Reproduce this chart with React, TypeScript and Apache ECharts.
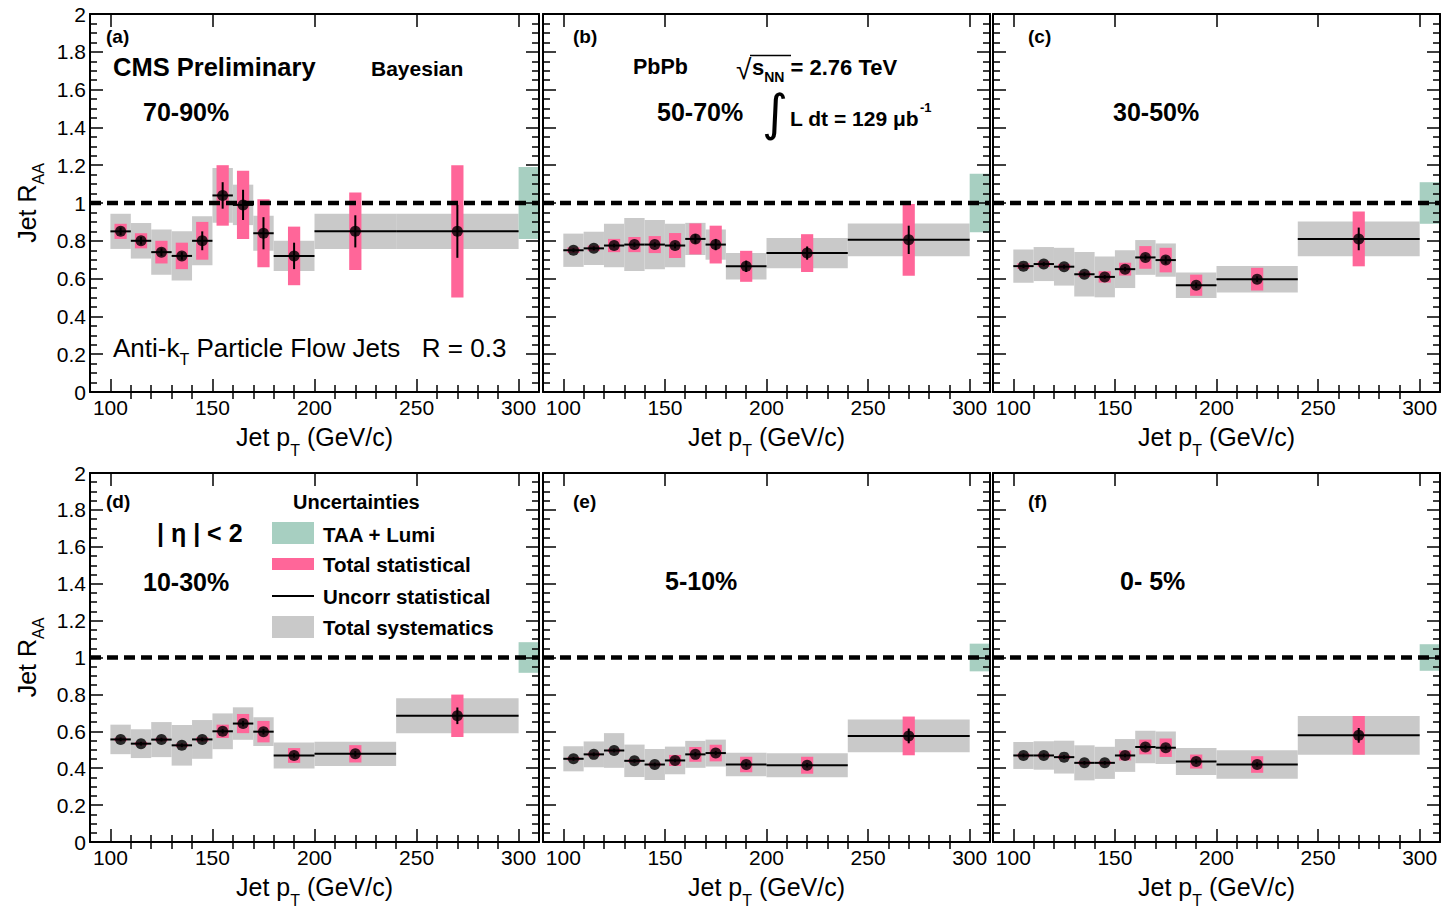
import React, { useEffect, useRef } from "react";
import * as echarts from "echarts";

// ---------- data ----------
const binLow = [100, 110, 120, 130, 140, 150, 160, 170, 180, 200, 240];
const binHigh = [110, 120, 130, 140, 150, 160, 170, 180, 200, 240, 300];
const binCenter = [105, 115, 125, 135, 145, 155, 165, 175, 190, 220, 270];

// (a) 70-90%
const raaA = [0.85, 0.8, 0.74, 0.72, 0.8, 1.04, 0.99, 0.84, 0.72, 0.85, 0.85];
const statA = [0.04, 0.04, 0.06, 0.07, 0.1, 0.16, 0.18, 0.18, 0.155, 0.205, 0.35];
const uncA = [0.02, 0.02, 0.02, 0.02, 0.05, 0.07, 0.08, 0.085, 0.07, 0.085, 0.14];
const sysA = [0.093, 0.094, 0.12, 0.13, 0.13, 0.145, 0.107, 0.093, 0.08, 0.093, 0.093];
// (b) 50-70%
const raaB = [0.75, 0.76, 0.775, 0.78, 0.78, 0.775, 0.81, 0.78, 0.665, 0.735, 0.805];
const statB = [0.015, 0.015, 0.035, 0.04, 0.045, 0.066, 0.082, 0.1, 0.082, 0.1, 0.19];
const uncB = [0.01, 0.01, 0.01, 0.012, 0.012, 0.015, 0.025, 0.03, 0.03, 0.035, 0.075];
const sysB = [0.088, 0.088, 0.115, 0.14, 0.13, 0.115, 0.085, 0.08, 0.07, 0.08, 0.087];
// (c) 30-50%
const raaC = [0.666, 0.677, 0.663, 0.623, 0.609, 0.65, 0.712, 0.698, 0.565, 0.597, 0.81];
const statC = [0.015, 0.015, 0.015, 0.015, 0.03, 0.034, 0.06, 0.065, 0.056, 0.06, 0.145];
const uncC = [0.01, 0.01, 0.01, 0.01, 0.01, 0.012, 0.015, 0.02, 0.015, 0.015, 0.06];
const sysC = [0.088, 0.09, 0.1, 0.118, 0.108, 0.1, 0.092, 0.088, 0.067, 0.07, 0.092];
// (d) 10-30%
const raaD = [0.556, 0.533, 0.555, 0.524, 0.556, 0.6, 0.642, 0.598, 0.469, 0.478, 0.684];
const statD = [0.01, 0.01, 0.01, 0.01, 0.012, 0.036, 0.052, 0.058, 0.04, 0.047, 0.115];
const uncD = [0.01, 0.01, 0.01, 0.01, 0.01, 0.012, 0.015, 0.015, 0.012, 0.015, 0.045];
const sysD = [0.08, 0.078, 0.095, 0.11, 0.105, 0.097, 0.088, 0.078, 0.07, 0.066, 0.095];
// (e) 5-10%
const raaE = [0.451, 0.475, 0.496, 0.44, 0.42, 0.442, 0.475, 0.482, 0.42, 0.416, 0.575];
const statE = [0.01, 0.01, 0.01, 0.01, 0.01, 0.03, 0.04, 0.045, 0.042, 0.046, 0.105];
const uncE = [0.01, 0.01, 0.01, 0.01, 0.01, 0.01, 0.012, 0.012, 0.012, 0.012, 0.04];
const sysE = [0.068, 0.07, 0.094, 0.088, 0.084, 0.075, 0.073, 0.073, 0.064, 0.065, 0.089];
// (f) 0-5%
const raaF = [0.469, 0.469, 0.46, 0.429, 0.429, 0.469, 0.515, 0.511, 0.436, 0.42, 0.578];
const statF = [0.01, 0.01, 0.01, 0.01, 0.01, 0.027, 0.04, 0.05, 0.038, 0.045, 0.105];
const uncF = [0.01, 0.01, 0.01, 0.01, 0.01, 0.01, 0.012, 0.012, 0.012, 0.012, 0.04];
const sysF = [0.073, 0.077, 0.089, 0.095, 0.087, 0.089, 0.088, 0.088, 0.073, 0.077, 0.105];

// TAA + Lumi normalisation uncertainty per panel
const taaLumi = [0.19, 0.155, 0.11, 0.083, 0.075, 0.072];
const normBoxRange = [300, 310];
const refLevel = 1;

const panelTags = ["(a)", "(b)", "(c)", "(d)", "(e)", "(f)"];
const centralityLabels = ["70-90%", "50-70%", "30-50%", "10-30%", "5-10%", "0- 5%"];
const xMajorTicks = [100, 150, 200, 250, 300];
const xMinorTicks = [110, 120, 130, 140, 160, 170, 180, 190, 210, 220, 230, 240, 260, 270, 280, 290];
const legendLabels = ["TAA + Lumi", "Total statistical", "Uncorr statistical", "Total systematics"];

const panels = [
  { raa: raaA, stat: statA, unc: uncA, sys: sysA },
  { raa: raaB, stat: statB, unc: uncB, sys: sysB },
  { raa: raaC, stat: statC, unc: uncC, sys: sysC },
  { raa: raaD, stat: statD, unc: uncD, sys: sysD },
  { raa: raaE, stat: statE, unc: uncE, sys: sysE },
  { raa: raaF, stat: statF, unc: uncF, sys: sysF },
];

// ---------- style ----------
const FONT = '"Liberation Sans", Arial, Helvetica, sans-serif';
const GRAY = "#c9c9c9";
const PINK = "#ff6699";
const GREEN = "#a7cfc1";
const STAT_HALF_WIDTH = 3;

const gridRects = [
  { left: 90, top: 14, width: 449, height: 378 },
  { left: 543, top: 14, width: 447, height: 378 },
  { left: 993, top: 14, width: 447, height: 378 },
  { left: 90, top: 473, width: 449, height: 370 },
  { left: 543, top: 473, width: 447, height: 370 },
  { left: 993, top: 473, width: 447, height: 370 },
];
const tagPos = [
  [106, 36], [573, 36], [1028, 36], [106, 501], [573, 501], [1028, 501],
];
const centPos = [
  [143, 112], [657, 112], [1113, 112], [143, 582], [665, 581], [1120, 581],
];

function boxRender(fill: string) {
  return (params: any, api: any) => {
    const p0 = api.coord([api.value(0), api.value(3)]);
    const p1 = api.coord([api.value(1), api.value(2)]);
    return {
      type: "rect",
      shape: { x: p0[0], y: p0[1], width: p1[0] - p0[0], height: p1[1] - p0[1] },
      style: { fill },
    };
  };
}

function errRender(params: any, api: any) {
  const y = api.value(3);
  const u = api.value(4);
  const a = api.coord([api.value(0), y]);
  const b = api.coord([api.value(1), y]);
  const c1 = api.coord([api.value(2), y + u]);
  const c2 = api.coord([api.value(2), y - u]);
  return {
    type: "group",
    children: [
      { type: "line", shape: { x1: a[0], y1: a[1], x2: b[0], y2: b[1] }, style: { stroke: "#000", lineWidth: 2 } },
      { type: "line", shape: { x1: c1[0], y1: c1[1], x2: c2[0], y2: c2[1] }, style: { stroke: "#000", lineWidth: 2 } },
    ],
  };
}

function subRich(mainSize: number, subSize: number, pad: number, bold = false, colorKey = "color") {
  const w = bold ? "bold" : "normal";
  return {
    t: { fontSize: mainSize, fontFamily: FONT, fontWeight: w, [colorKey]: "#000", lineHeight: mainSize + 1 },
    sub: {
      fontSize: subSize,
      fontFamily: FONT,
      fontWeight: w,
      [colorKey]: "#000",
      lineHeight: 2,
      verticalAlign: "top",
      padding: [pad, 0, 0, 0],
    },
  };
}

function buildOption() {
  const grid: any[] = [];
  const xAxis: any[] = [];
  const yAxis: any[] = [];
  const series: any[] = [];
  const tickLine = { color: "#000", width: 1.5 };
  const frameLine = { show: true, onZero: false, lineStyle: { color: "#000", width: 2 } };

  panels.forEach((p, i) => {
    const r = gridRects[i];
    grid.push({ left: r.left, top: r.top, width: r.width, height: r.height, containLabel: false });
    const xBase = { type: "value", gridIndex: i, min: 90, max: 310, z: 10, splitLine: { show: false } };
    xAxis.push({
      ...xBase,
      position: "bottom",
      axisLine: frameLine,
      axisTick: { show: true, inside: true, length: 13, customValues: xMajorTicks, lineStyle: tickLine },
      axisLabel: { show: true, customValues: xMajorTicks, fontSize: 21, color: "#000", fontFamily: FONT, margin: 5 },
      name: "{t|Jet p}{sub|T}{t| (GeV/c)}",
      nameLocation: "middle",
      nameGap: 32,
      nameTextStyle: {
        color: "#000",
        fontFamily: FONT,
        fontSize: 25,
        rich: subRich(25, 16, 18),
      },
    });
    xAxis.push({
      ...xBase,
      position: "bottom",
      axisLine: { show: false },
      axisTick: { show: true, inside: true, length: 7, customValues: xMinorTicks, lineStyle: tickLine },
      axisLabel: { show: false },
    });
    xAxis.push({
      ...xBase,
      position: "top",
      axisLine: frameLine,
      axisTick: { show: true, inside: true, length: 13, customValues: xMajorTicks, lineStyle: tickLine },
      axisLabel: { show: false },
    });
    xAxis.push({
      ...xBase,
      position: "top",
      axisLine: { show: false },
      axisTick: { show: true, inside: true, length: 7, customValues: xMinorTicks, lineStyle: tickLine },
      axisLabel: { show: false },
    });
    const showY = i % 3 === 0;
    const yBase = {
      type: "value",
      gridIndex: i,
      min: 0,
      max: 2,
      interval: 0.2,
      z: 10,
      splitLine: { show: false },
      axisLine: frameLine,
      axisTick: { show: true, inside: true, length: 13, lineStyle: tickLine },
      minorTick: { show: true, splitNumber: 4, length: 7, lineStyle: tickLine },
    };
    yAxis.push({
      ...yBase,
      position: "left",
      axisLabel: { show: showY, fontSize: 21, color: "#000", fontFamily: FONT, margin: 4 },
      name: showY ? "{t|Jet R}{sub|AA}" : "",
      nameLocation: "middle",
      nameGap: 50,
      nameTextStyle: {
        color: "#000",
        fontFamily: FONT,
        fontSize: 25,
        rich: subRich(25, 16, 16),
      },
    });
    yAxis.push({ ...yBase, position: "right", axisLabel: { show: false } });

    const xi = i * 4;
    const yi = i * 2;
    series.push({
      type: "custom",
      xAxisIndex: xi,
      yAxisIndex: yi,
      z: 1,
      renderItem: boxRender(GRAY),
      encode: { x: [0, 1], y: [2, 3] },
      data: binLow.map((lo, k) => [lo, binHigh[k], p.raa[k] - p.sys[k], p.raa[k] + p.sys[k]]),
    });
    series.push({
      type: "custom",
      xAxisIndex: xi,
      yAxisIndex: yi,
      z: 2,
      renderItem: boxRender(PINK),
      encode: { x: [0, 1], y: [2, 3] },
      data: binCenter.map((c, k) => [c - STAT_HALF_WIDTH, c + STAT_HALF_WIDTH, p.raa[k] - p.stat[k], p.raa[k] + p.stat[k]]),
    });
    series.push({
      type: "custom",
      xAxisIndex: xi,
      yAxisIndex: yi,
      z: 2,
      renderItem: boxRender(GREEN),
      encode: { x: [0, 1], y: [2, 3] },
      data: [[normBoxRange[0], normBoxRange[1], refLevel - taaLumi[i], refLevel + taaLumi[i]]],
    });
    series.push({
      type: "line",
      xAxisIndex: xi,
      yAxisIndex: yi,
      z: 3,
      symbol: "none",
      silent: true,
      lineStyle: { color: "#000", width: 4.5, type: [11, 6] },
      data: [[90, refLevel], [310, refLevel]],
    });
    series.push({
      type: "custom",
      xAxisIndex: xi,
      yAxisIndex: yi,
      z: 4,
      renderItem: errRender,
      encode: { x: [0, 1, 2], y: [3] },
      data: binCenter.map((c, k) => [binLow[k], binHigh[k], c, p.raa[k], p.unc[k]]),
    });
    series.push({
      type: "scatter",
      xAxisIndex: xi,
      yAxisIndex: yi,
      z: 5,
      symbol: "circle",
      symbolSize: 11,
      itemStyle: { color: "#000" },
      data: binCenter.map((c, k) => [c, p.raa[k]]),
    });
  });

  const txt = (x: number, y: number, text: string, size: number, bold = true, extra: any = {}) => ({
    type: "text",
    x,
    y,
    z: 20,
    style: {
      text,
      fill: "#000",
      fontFamily: FONT,
      fontSize: size,
      fontWeight: bold ? "bold" : "normal",
      align: "left",
      verticalAlign: "middle",
      textAlign: "left",
      textVerticalAlign: "middle",
      ...extra,
    },
  });

  const graphic: any[] = [];
  panelTags.forEach((t, i) => graphic.push(txt(tagPos[i][0], tagPos[i][1], t, 19, true)));
  centralityLabels.forEach((t, i) => graphic.push(txt(centPos[i][0], centPos[i][1], t, 25, true)));
  graphic.push(txt(113, 67, "CMS Preliminary", 25.5, true));
  graphic.push(txt(371, 68, "Bayesian", 21, true));
  graphic.push(
    txt(113, 348, "{t|Anti-k}{sub|T}{t| Particle Flow Jets   R = 0.3}", 26, false, {
      rich: subRich(26, 16, 17, false, "fill"),
    })
  );
  graphic.push(txt(633, 67, "PbPb", 21.5, true));
  graphic.push(txt(736, 69, "\u221A", 28, false));
  graphic.push({ type: "line", z: 20, shape: { x1: 750, y1: 55.5, x2: 791, y2: 55.5 }, style: { stroke: "#000", lineWidth: 1.5 } });
  graphic.push(
    txt(752, 67, "{t|s}{sub|NN}{t| = 2.76 TeV}", 22, true, {
      rich: subRich(22, 14, 14, true, "fill"),
    })
  );
  graphic.push(txt(762, 113, "\u222B", 50, false, { fontFamily: '"DejaVu Sans", sans-serif' }));
  graphic.push(
    txt(790, 118, "{t|L dt = 129 \u03BCb}{sup|-1}", 21, true, {
      rich: {
        t: { fontSize: 21, fontFamily: FONT, fontWeight: "bold", fill: "#000", lineHeight: 22 },
        sup: {
          fontSize: 13,
          fontFamily: FONT,
          fontWeight: "bold",
          fill: "#000",
          lineHeight: 2,
          verticalAlign: "bottom",
          padding: [0, 0, 15, 1],
        },
      },
    })
  );
  graphic.push(txt(157, 533, "| \u03B7 | < 2", 25, true));
  graphic.push(txt(293, 502, "Uncertainties", 20, true));
  graphic.push({ type: "rect", z: 20, shape: { x: 272, y: 522, width: 42, height: 22 }, style: { fill: GREEN } });
  graphic.push({ type: "rect", z: 20, shape: { x: 272, y: 558, width: 42, height: 12 }, style: { fill: PINK } });
  graphic.push({ type: "line", z: 20, shape: { x1: 272, y1: 596, x2: 314, y2: 596 }, style: { stroke: "#000", lineWidth: 2 } });
  graphic.push({ type: "rect", z: 20, shape: { x: 272, y: 616, width: 42, height: 22 }, style: { fill: GRAY } });
  const legY = [534, 564, 596, 627];
  legendLabels.forEach((t, k) => graphic.push(txt(323, legY[k], t, 20.5, true)));

  return { animation: false, backgroundColor: "#fff", grid, xAxis, yAxis, series, graphic };
}

export default function App() {
  const ref = useRef<HTMLDivElement>(null);
  useEffect(() => {
    if (!ref.current) return;
    const chart = echarts.init(ref.current, null, { renderer: "svg" });
    chart.setOption(buildOption() as any);
    return () => chart.dispose();
  }, []);
  return (
    <div
      ref={ref}
      style={{ position: "absolute", left: 0, top: 0, width: 1443, height: 909, background: "#fff" }}
    />
  );
}
